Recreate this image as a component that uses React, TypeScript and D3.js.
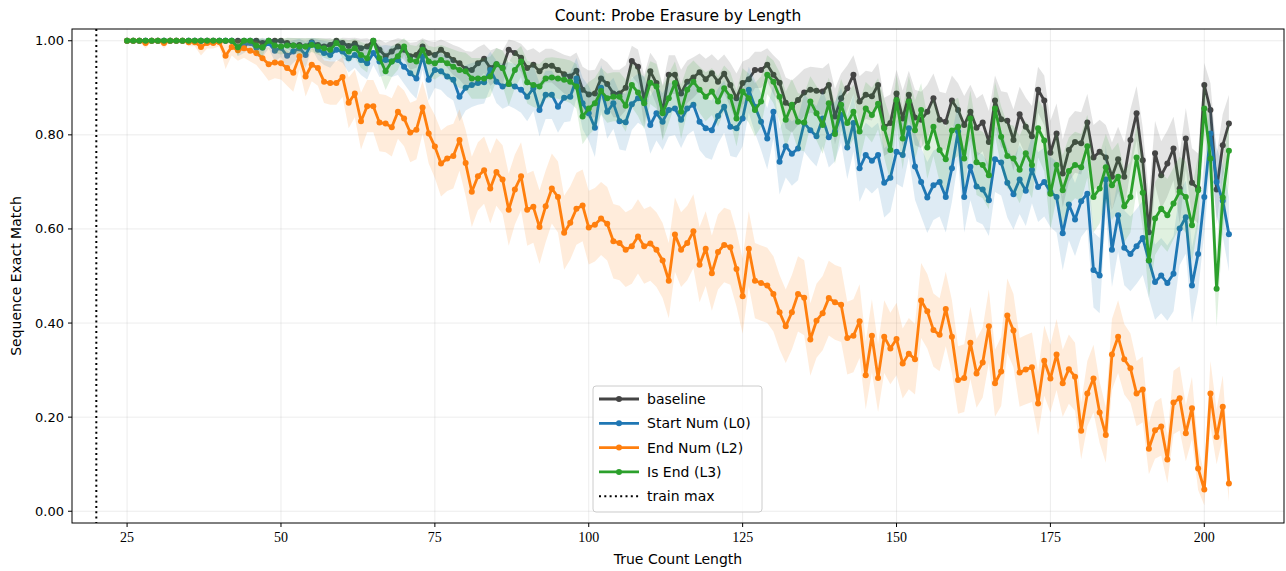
import * as d3 from 'd3';

// sequence lengths 25..204
const lengths: number[] = d3.range(25, 205);

const baseline: number[] = [
  1, 1, 1, 1, 1, 1, 1, 1, 1, 1,
  1, 1, 1, 1, 1, 1, 1, 1, 1, 1,
  1, 1, 0.995, 1, 1, 1, 0.995, 0.99, 0.991, 0.988,
  0.997, 0.991, 0.988, 0.991, 1.0, 0.995, 0.989, 0.994, 0.984, 0.988,
  1.0, 0.981, 0.967, 0.977, 0.988, 0.981, 0.967, 0.97, 0.988, 0.974,
  0.97, 0.981, 0.97, 0.959, 0.952, 0.94, 0.938, 0.952, 0.962, 0.942,
  0.95, 0.942, 0.981, 0.974, 0.964, 0.942, 0.949, 0.935, 0.947, 0.947,
  0.938, 0.929, 0.924, 0.936, 0.896, 0.886, 0.888, 0.92, 0.908, 0.888,
  0.888, 0.9, 0.957, 0.945, 0.874, 0.935, 0.91, 0.849, 0.928, 0.928,
  0.888, 0.913, 0.922, 0.933, 0.918, 0.931, 0.913, 0.93, 0.906, 0.878,
  0.91, 0.918, 0.938, 0.938, 0.949, 0.928, 0.911, 0.868, 0.86, 0.874,
  0.89, 0.896, 0.894, 0.892, 0.906, 0.839, 0.878, 0.899, 0.928, 0.871,
  0.885, 0.882, 0.906, 0.817, 0.825, 0.888, 0.835, 0.885, 0.837, 0.832,
  0.849, 0.878, 0.832, 0.828, 0.873, 0.853, 0.821, 0.849, 0.815, 0.826,
  0.785, 0.873, 0.833, 0.83, 0.789, 0.844, 0.817, 0.797, 0.896, 0.873,
  0.762, 0.803, 0.718, 0.768, 0.785, 0.782, 0.826, 0.752, 0.764, 0.752,
  0.711, 0.748, 0.711, 0.789, 0.846, 0.746, 0.593, 0.761, 0.714, 0.739,
  0.771, 0.686, 0.792, 0.698, 0.686, 0.906, 0.853, 0.684, 0.778, 0.824,
];

const startNum: number[] = [
  1, 1, 1, 1, 1, 1, 1, 1, 1, 1,
  1, 1, 1, 1, 1, 1, 1, 1, 0.986, 0.99,
  0.995, 0.985, 0.985, 0.995, 0.979, 0.985, 0.968, 0.977, 0.984, 0.97,
  0.995, 0.981, 0.974, 0.97, 0.981, 0.977, 0.963, 0.97, 0.959, 0.952,
  0.974, 0.956, 0.959, 0.956, 0.959, 0.945, 0.931, 0.92, 0.967, 0.917,
  0.938, 0.935, 0.924, 0.917, 0.881, 0.9, 0.906, 0.91, 0.912, 0.938,
  0.913, 0.903, 0.908, 0.903, 0.896, 0.881, 0.899, 0.853, 0.885, 0.885,
  0.86, 0.879, 0.881, 0.92, 0.867, 0.846, 0.815, 0.9, 0.849, 0.867,
  0.829, 0.827, 0.865, 0.878, 0.871, 0.821, 0.846, 0.828, 0.853, 0.856,
  0.832, 0.856, 0.864, 0.828, 0.814, 0.81, 0.84, 0.86, 0.817, 0.814,
  0.835, 0.896, 0.86, 0.828, 0.792, 0.849, 0.743, 0.776, 0.76, 0.771,
  0.825, 0.81, 0.797, 0.835, 0.795, 0.807, 0.842, 0.773, 0.825, 0.729,
  0.757, 0.745, 0.757, 0.698, 0.709, 0.764, 0.757, 0.814, 0.733, 0.7,
  0.667, 0.693, 0.7, 0.668, 0.729, 0.807, 0.668, 0.732, 0.69, 0.684,
  0.661, 0.748, 0.741, 0.698, 0.674, 0.705, 0.681, 0.726, 0.689, 0.7,
  0.679, 0.668, 0.591, 0.652, 0.62, 0.659, 0.675, 0.513, 0.501, 0.705,
  0.556, 0.629, 0.56, 0.547, 0.563, 0.581, 0.533, 0.487, 0.501, 0.485,
  0.505, 0.601, 0.625, 0.48, 0.547, 0.668, 0.803, 0.7, 0.66, 0.589,
];

const endNum: number[] = [
  1, 1, 1, 0.995, 1, 1, 0.995, 1, 1, 1,
  0.997, 0.997, 0.987, 0.995, 0.995, 0.997, 0.968, 0.987, 0.98, 0.984,
  0.979, 0.974, 0.963, 0.95, 0.954, 0.952, 0.942, 0.932, 0.967, 0.924,
  0.949, 0.942, 0.913, 0.91, 0.91, 0.923, 0.868, 0.888, 0.829, 0.861,
  0.861, 0.826, 0.824, 0.816, 0.849, 0.835, 0.805, 0.811, 0.858, 0.803,
  0.775, 0.739, 0.75, 0.755, 0.789, 0.74, 0.679, 0.712, 0.725, 0.686,
  0.721, 0.705, 0.641, 0.684, 0.712, 0.641, 0.647, 0.604, 0.648, 0.686,
  0.668, 0.592, 0.613, 0.643, 0.65, 0.603, 0.609, 0.622, 0.611, 0.574,
  0.57, 0.556, 0.563, 0.584, 0.563, 0.569, 0.556, 0.533, 0.49, 0.588,
  0.556, 0.57, 0.595, 0.524, 0.558, 0.506, 0.551, 0.566, 0.561, 0.515,
  0.457, 0.558, 0.49, 0.485, 0.48, 0.462, 0.423, 0.393, 0.423, 0.462,
  0.454, 0.365, 0.405, 0.421, 0.453, 0.444, 0.439, 0.368, 0.373, 0.404,
  0.289, 0.373, 0.283, 0.371, 0.346, 0.366, 0.314, 0.335, 0.323, 0.448,
  0.425, 0.385, 0.375, 0.43, 0.371, 0.279, 0.283, 0.358, 0.293, 0.316,
  0.393, 0.272, 0.297, 0.416, 0.384, 0.295, 0.301, 0.306, 0.229, 0.32,
  0.282, 0.333, 0.272, 0.302, 0.286, 0.171, 0.25, 0.282, 0.21, 0.162,
  0.333, 0.371, 0.323, 0.304, 0.25, 0.259, 0.133, 0.172, 0.18, 0.11,
  0.231, 0.24, 0.166, 0.219, 0.091, 0.046, 0.25, 0.158, 0.222, 0.059,
];

const isEnd: number[] = [
  1, 1, 1, 1, 1, 1, 1, 1, 1, 1,
  1, 1, 1, 1, 1, 1, 1, 1, 0.986, 1,
  1, 0.99, 0.986, 1, 0.99, 0.988, 0.99, 0.99, 0.988, 0.988,
  0.991, 0.988, 0.984, 0.981, 0.995, 0.984, 0.977, 0.984, 0.97, 0.963,
  1.0, 0.963, 0.935, 0.956, 0.967, 0.988, 0.959, 0.956, 0.981, 0.956,
  0.952, 0.959, 0.952, 0.945, 0.938, 0.935, 0.92, 0.92, 0.92, 0.924,
  0.95, 0.942, 0.908, 0.938, 0.956, 0.912, 0.906, 0.903, 0.92, 0.922,
  0.92, 0.917, 0.913, 0.903, 0.839, 0.856, 0.867, 0.893, 0.878, 0.881,
  0.881, 0.862, 0.906, 0.89, 0.867, 0.911, 0.903, 0.846, 0.878, 0.91,
  0.849, 0.896, 0.913, 0.896, 0.881, 0.892, 0.871, 0.899, 0.881, 0.835,
  0.892, 0.878, 0.853, 0.871, 0.928, 0.913, 0.881, 0.832, 0.864, 0.828,
  0.826, 0.871, 0.846, 0.821, 0.867, 0.802, 0.864, 0.825, 0.849, 0.807,
  0.856, 0.842, 0.866, 0.814, 0.768, 0.874, 0.792, 0.871, 0.81, 0.853,
  0.773, 0.817, 0.768, 0.748, 0.809, 0.817, 0.75, 0.835, 0.742, 0.736,
  0.714, 0.856, 0.796, 0.755, 0.75, 0.726, 0.761, 0.736, 0.814, 0.788,
  0.675, 0.736, 0.682, 0.723, 0.736, 0.731, 0.776, 0.668, 0.686, 0.731,
  0.693, 0.711, 0.648, 0.668, 0.752, 0.677, 0.533, 0.622, 0.643, 0.629,
  0.654, 0.679, 0.668, 0.608, 0.682, 0.856, 0.75, 0.473, 0.667, 0.766,
];

const seriesNames = ['baseline', 'Start Num (L0)', 'End Num (L2)', 'Is End (L3)'];
const seriesColors = ['#444444', '#1f77b4', '#ff7f0e', '#2ca02c'];
const seriesValues = [baseline, startNum, endNum, isEnd];
const trainMax = 20;
const samplesPerLength = 150; // used for the binomial 95% band
const xTicks = [25, 50, 75, 100, 125, 150, 175, 200];
const yTicks = [0, 0.2, 0.4, 0.6, 0.8, 1.0];

const W = 1286;
const H = 571;
const margin = { left: 72, right: 2, top: 29, bottom: 48 };

export default function App() {
  const x = d3.scaleLinear()
    .domain([25 - 179 * 0.05, 204 + 179 * 0.05])
    .range([margin.left, W - margin.right]);
  const y = d3.scaleLinear()
    .domain([-0.025, 1.025])
    .range([H - margin.bottom, margin.top]);

  const half = (p: number) => 1.96 * Math.sqrt(Math.max(p * (1 - p), 0) / samplesPerLength);

  const line = d3.line<number>().x((_, i) => x(lengths[i])).y(d => y(d));
  const band = d3.area<number>()
    .x((_, i) => x(lengths[i]))
    .y0(d => y(d - half(d)))
    .y1(d => y(d + half(d)));

  const x0 = margin.left, x1 = W - margin.right;
  const y0 = H - margin.bottom, y1 = margin.top;
  const sans = '"DejaVu Sans", sans-serif';
  const serif = '"Liberation Serif", "DejaVu Serif", serif';

  const lg = { x: 593, y: 386, w: 169, h: 126 };

  return (
    <svg width={W} height={H} style={{ position: 'absolute', left: 0, top: 0, background: '#fff' }}>
      <defs>
        <clipPath id="plot"><rect x={x0} y={y1} width={x1 - x0} height={y0 - y1} /></clipPath>
      </defs>
      {/* grid */}
      <g stroke="#b0b0b0" strokeOpacity={0.3} strokeWidth={0.8}>
        {xTicks.map(t => <line key={'gx' + t} x1={x(t)} x2={x(t)} y1={y1} y2={y0} />)}
        {yTicks.map(t => <line key={'gy' + t} x1={x0} x2={x1} y1={y(t)} y2={y(t)} />)}
      </g>
      <g clipPath="url(#plot)">
        {seriesValues.map((vals, s) => (
          <g key={seriesNames[s]}>
            <path d={band(vals) ?? ''} fill={seriesColors[s]} fillOpacity={0.15} stroke="none" />
            <path d={line(vals) ?? ''} fill="none" stroke={seriesColors[s]} strokeWidth={2.8} strokeLinejoin="round" />
            {vals.map((v, i) => (
              <circle key={i} cx={x(lengths[i])} cy={y(v)} r={3} fill={seriesColors[s]} />
            ))}
          </g>
        ))}
        <line x1={x(trainMax)} x2={x(trainMax)} y1={y1} y2={y0} stroke="#000" strokeWidth={2} strokeDasharray="2,3.3" />
      </g>
      {/* frame */}
      <rect x={x0} y={y1} width={x1 - x0} height={y0 - y1} fill="none" stroke="#000" strokeWidth={1} />
      {/* x axis */}
      <g>
        {xTicks.map(t => (
          <g key={'xt' + t}>
            <line x1={x(t)} x2={x(t)} y1={y0} y2={y0 + 4} stroke="#000" />
            <text x={x(t)} y={y0 + 19} textAnchor="middle" fontFamily={serif} fontSize={14}>{t}</text>
          </g>
        ))}
        <text x={(x0 + x1) / 2} y={H - 7} textAnchor="middle" fontFamily={sans} fontSize={14}>True Count Length</text>
      </g>
      {/* y axis */}
      <g>
        {yTicks.map(t => (
          <g key={'yt' + t}>
            <line x1={x0 - 4} x2={x0} y1={y(t)} y2={y(t)} stroke="#000" />
            <text x={x0 - 8} y={y(t) + 4.5} textAnchor="end" fontFamily={sans} fontSize={13}>{t.toFixed(2)}</text>
          </g>
        ))}
        <text transform={`translate(21,${(y0 + y1) / 2}) rotate(-90)`} textAnchor="middle" fontFamily={sans} fontSize={14}>Sequence Exact Match</text>
      </g>
      <text x={(x0 + x1) / 2} y={21} textAnchor="middle" fontFamily={sans} fontSize={15.5}>Count: Probe Erasure by Length</text>
      {/* legend */}
      <g>
        <rect x={lg.x} y={lg.y} width={lg.w} height={lg.h} rx={3} fill="#fff" fillOpacity={0.8} stroke="#cccccc" />
        {seriesNames.map((name, s) => {
          const ly = lg.y + 13 + s * 24.3;
          return (
            <g key={'lg' + name}>
              <line x1={lg.x + 6} x2={lg.x + 46} y1={ly} y2={ly} stroke={seriesColors[s]} strokeWidth={2.8} />
              <circle cx={lg.x + 26} cy={ly} r={3} fill={seriesColors[s]} />
              <text x={lg.x + 54} y={ly + 5} fontFamily={sans} fontSize={14}>{name}</text>
            </g>
          );
        })}
        <line x1={lg.x + 6} x2={lg.x + 46} y1={lg.y + 13 + 4 * 24.3} y2={lg.y + 13 + 4 * 24.3} stroke="#000" strokeWidth={2} strokeDasharray="2,3.3" />
        <text x={lg.x + 54} y={lg.y + 18 + 4 * 24.3} fontFamily={sans} fontSize={14}>train max</text>
      </g>
    </svg>
  );
}
